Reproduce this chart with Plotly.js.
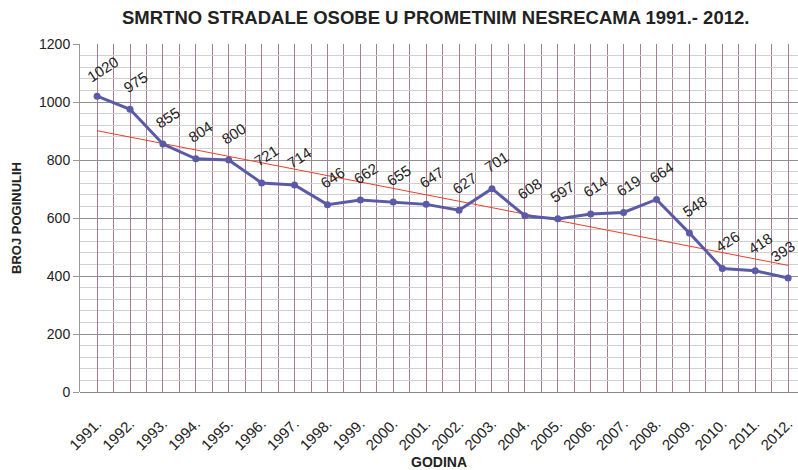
<!DOCTYPE html>
<html><head><meta charset="utf-8">
<script src="https://cdn.plot.ly/plotly-3.0.1.min.js"></script>
<style>body{margin:0;background:#fff}#c{width:798px;height:470px}</style>
</head><body><div id="c"></div>
<script>
const years = ["1991.","1992.","1993.","1994.","1995.","1996.","1997.","1998.","1999.","2000.","2001.","2002.","2003.","2004.","2005.","2006.","2007.","2008.","2009.","2010.","2011.","2012."];
const deaths = [1020,975,855,804,800,721,714,646,662,655,647,627,701,608,597,614,619,664,548,426,418,393];

const idx = years.map((_, i) => i);
// linear trendline (least squares) from the data
const n = deaths.length;
const mx = idx.reduce((a,b)=>a+b,0)/n;
const my = deaths.reduce((a,b)=>a+b,0)/n;
let sxy=0, sxx=0;
idx.forEach((x,i)=>{sxy+=(x-mx)*(deaths[i]-my); sxx+=(x-mx)*(x-mx);});
const slope = sxy/sxx, icpt = my - slope*mx;
const trendX = [0, n-1];
const trendY = trendX.map(x => icpt + slope*x);

const font = "Liberation Sans, Arial, sans-serif";
const pink = "#a97a95";

const traces = [
  {x: trendX, y: trendY, type: "scatter", mode: "lines",
   line: {color: "#e8402a", width: 1}, hoverinfo: "none"},
  {x: idx, y: deaths, type: "scatter", mode: "lines+markers",
   line: {color: "#5b5aa6", width: 3}, marker: {color: "#5b5aa6", size: 7},
   hoverinfo: "none"}
];

const annotations = idx.map((i) => ({
  x: i, y: deaths[i], xref: "x", yref: "y", text: String(deaths[i]),
  showarrow: false, textangle: -33, xshift: i === n-1 ? -6 : 5, yshift: 27,
  font: {family: font, size: 15, color: "#222"}
}));

const layout = {
  width: 798, height: 470,
  margin: {l: 80, r: 0, t: 44, b: 78},
  paper_bgcolor: "#fff", plot_bgcolor: "#fff",
  showlegend: false,
  title: {text: "<b>SMRTNO STRADALE OSOBE U PROMETNIM NESRECAMA 1991.- 2012.</b>",
          x: 0.546, xanchor: "center", y: 0.962, yanchor: "middle",
          font: {family: font, size: 18.5, color: "#222"}},
  xaxis: {
    range: [-0.52, 21.3], tickmode: "array", tickvals: idx, ticktext: years,
    tickangle: -45, showgrid: true, gridcolor: pink, gridwidth: 1,
    minor: {dtick: 0.5, tick0: 0, showgrid: true, gridcolor: pink, gridwidth: 1},
    zeroline: false, showline: false, ticks: "outside", ticklen: 16, tickcolor: "rgba(0,0,0,0)",
    tickfont: {family: font, size: 15, color: "#222"},
    title: {text: "<b>GODINA</b>", font: {family: font, size: 14, color: "#222"}, standoff: 6}
  },
  yaxis: {
    range: [0, 1200], dtick: 200, showgrid: true, gridcolor: "#8e8e8e", gridwidth: 1,
    minor: {dtick: 40, showgrid: true, gridcolor: "#d0d0d0", gridwidth: 1},
    showline: true, linecolor: "#999", zeroline: true, zerolinecolor: "#888",
    ticks: "outside", ticklen: 6, tickcolor: "#999",
    tickfont: {family: font, size: 14, color: "#222"},
    title: {text: "<b>BROJ POGINULIH</b>", font: {family: font, size: 13, color: "#222"}, standoff: 14}
  },
  annotations: annotations
};
Plotly.newPlot("c", traces, layout, {staticPlot: true});
</script></body></html>
